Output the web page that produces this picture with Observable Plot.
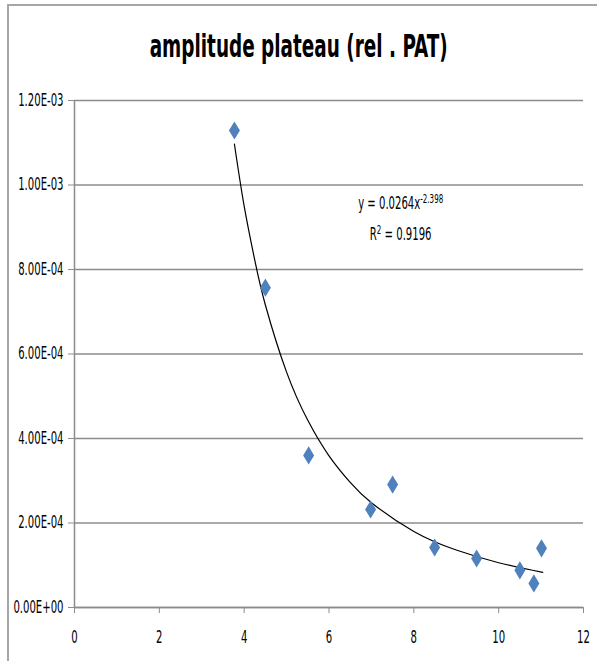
<!DOCTYPE html>
<html>
<head>
<meta charset="utf-8">
<script src="https://cdn.jsdelivr.net/npm/d3@7"></script>
<script src="https://cdn.jsdelivr.net/npm/@observablehq/plot@0.6"></script>
<style>
  html, body { margin: 0; padding: 0; background: #fff; }
  #wrap { position: relative; width: 597px; height: 661px; overflow: hidden; background: #fff; }
  #frame { position: absolute; left: 7px; top: 4px; width: 620px; height: 700px; border-top: 2px solid #a6a6a6; border-left: 2px solid #a6a6a6; }
  #title { position: absolute; left: 0; top: 30px; width: 597px; text-align: center; font-family: "DejaVu Sans Condensed", "Liberation Sans Narrow", sans-serif; font-weight: bold; font-size: 32px; line-height: 32px; color: #000; transform: scaleX(0.64); transform-origin: 299px 50%; white-space: nowrap; }
  #chart { position: absolute; left: 0; top: 80px; }
</style>
</head>
<body>
<div id="wrap">
  <div id="frame"></div>
  <div id="title">amplitude plateau (rel . PAT)</div>
  <div id="chart"></div>
</div>
<script>
// Data
const xValues = [3.77, 4.50, 5.52, 6.98, 7.50, 8.49, 9.48, 10.50, 10.83, 11.01];
const yValues = [1.129e-3, 7.57e-4, 3.60e-4, 2.32e-4, 2.91e-4, 1.42e-4, 1.16e-4, 8.8e-5, 5.7e-5, 1.40e-4];

// Power trend line
const trendX = [3.77, 4.0, 4.25, 4.5, 5.0, 5.5, 6.0, 6.5, 7.0, 8.0, 9.0, 10.0, 11.04];
const trendY = [1.097e-3, 9.50e-4, 8.22e-4, 7.16e-4, 5.57e-4, 4.43e-4, 3.59e-4, 2.96e-4, 2.48e-4, 1.80e-4, 1.36e-4, 1.06e-4, 8.3e-5];

const xTicks = [0, 2, 4, 6, 8, 10, 12];
const xTickLabels = ["0", "2", "4", "6", "8", "10", "12"];
const yTicks = [0, 2e-4, 4e-4, 6e-4, 8e-4, 1e-3, 1.2e-3];
const yTickLabels = ["0.00E+00", "2.00E-04", "4.00E-04", "6.00E-04", "8.00E-04", "1.00E-03", "1.20E-03"];

const eqLines = ["y = 0.0264x", "R2 = 0.9196"];
const eqX = [7.69, 7.69];
const eqY = [9.56e-4, 8.83e-4];

const points = xValues.map((x, i) => ({x, y: yValues[i]}));
const trend = trendX.map((x, i) => ({x, y: trendY[i]}));
const eqs = eqLines.map((t, i) => ({t, x: eqX[i], y: eqY[i]}));

const tallDiamond = {
  draw(ctx, size) {
    const r = Math.sqrt(size / Math.PI);
    const w = r, h = r * 1.65;
    ctx.moveTo(0, -h); ctx.lineTo(w, 0); ctx.lineTo(0, h); ctx.lineTo(-w, 0); ctx.closePath();
  }
};

const gray = "#8c8c8c";
const font = '"DejaVu Sans Condensed", "Liberation Sans Narrow", sans-serif';

const svg = Plot.plot({
  width: 597,
  height: 575,
  marginTop: 20,
  marginBottom: 48,
  marginLeft: 74,
  marginRight: 14,
  style: { fontFamily: font, fontSize: "17px", background: "transparent", color: "#000" },
  x: { domain: [0, 12] },
  y: { domain: [0, 1.2e-3] },
  marks: [
    Plot.gridY(yTicks, { stroke: gray, strokeOpacity: 1, strokeWidth: 1.5 }),
    Plot.ruleX([0], { stroke: gray, strokeWidth: 1.5 }),
    Plot.ruleY([0], { stroke: gray, strokeWidth: 1.5 }),
    Plot.axisY({ ticks: yTicks, tickSize: 6, tickPadding: 5, stroke: gray, fill: "#000", fontSize: 17, tickFormat: (d) => yTickLabels[yTicks.indexOf(d)], label: null }),
    Plot.axisX({ ticks: xTicks, tickSize: 6, tickPadding: 17, stroke: gray, fill: "#000", fontSize: 17, tickFormat: (d) => xTickLabels[xTicks.indexOf(d)], label: null }),
    Plot.line(trend, { x: "x", y: "y", stroke: "#000", strokeWidth: 1.2, curve: "natural" }),
    Plot.dot(points, { x: "x", y: "y", symbol: tallDiamond, r: 5.5, fill: "#4f81bd", stroke: "none" }),
    Plot.text(eqs, { x: "x", y: "y", text: "t", textAnchor: "middle", fontSize: 17, fill: "#000" })
  ]
});

document.getElementById("chart").appendChild(svg);

// Superscripts for the trend-line equation
d3.select(svg).selectAll("text").filter(function () { return this.textContent === eqLines[0]; })
  .each(function () {
    d3.select(this).append("tspan").attr("baseline-shift", "super").attr("font-size", "12px").text("-2.398");
  });
d3.select(svg).selectAll("text").filter(function () { return this.textContent === eqLines[1]; })
  .each(function () {
    const t = d3.select(this);
    t.text(null);
    t.append("tspan").text("R");
    t.append("tspan").attr("baseline-shift", "super").attr("font-size", "12px").text("2");
    t.append("tspan").text(" = 0.9196");
  });

// Narrow the glyphs horizontally (the reference uses a condensed face)
d3.select(svg).selectAll("text").each(function () {
  const x = +(this.getAttribute("x") || 0);
  const t = this.getAttribute("transform") || "";
  this.setAttribute("transform", `${t} translate(${x},0) scale(0.66,1) translate(${-x},0)`);
});
</script>
</body>
</html>
